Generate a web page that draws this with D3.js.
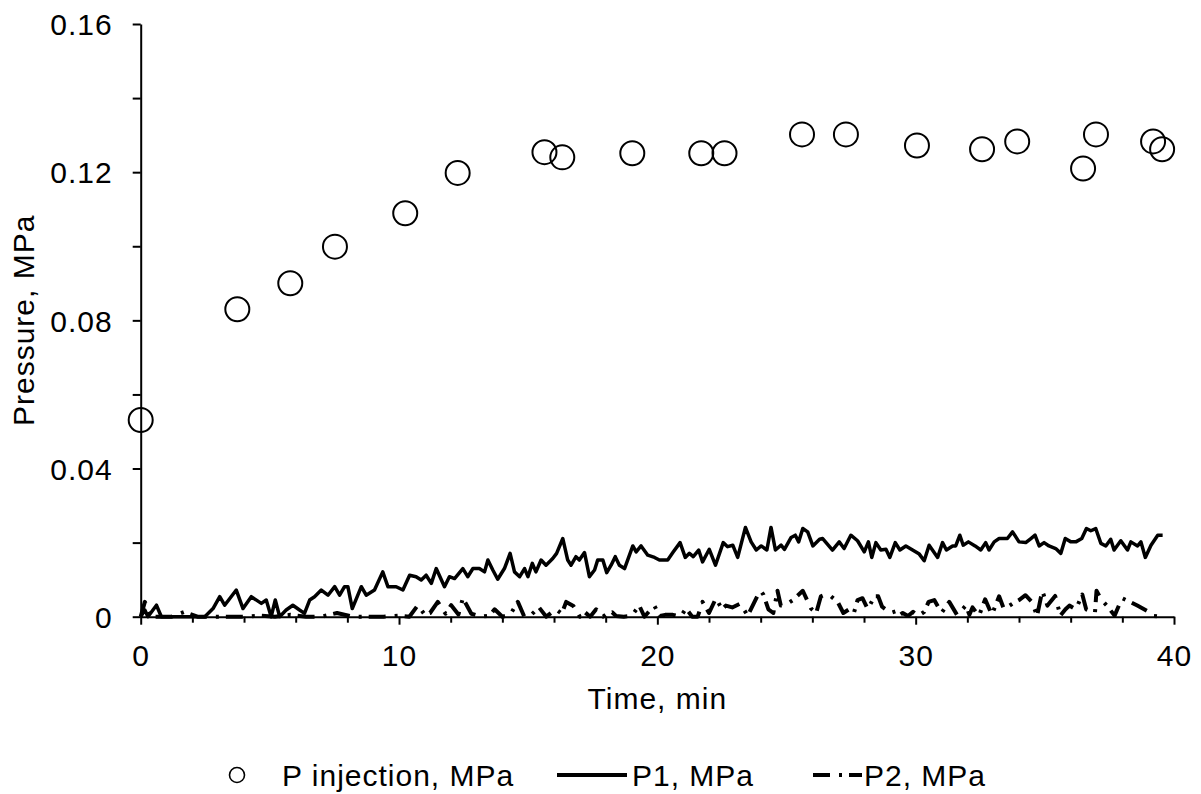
<!DOCTYPE html>
<html>
<head>
<meta charset="utf-8">
<script src="https://cdn.jsdelivr.net/npm/d3@7"></script>
<style>
  body { margin: 0; background: #fff; }
  svg text { font-family: "Liberation Sans", Arial, sans-serif; fill: #000; }
</style>
</head>
<body>
<svg id="chart" width="1201" height="794"></svg>
<script>
// Injection pressure, sampled by hand (min, MPa)
const injTime = [0, 3.74, 5.79, 7.52, 10.24, 12.27, 15.63, 16.32, 19.03, 21.7, 22.6, 25.6, 27.3, 30.05, 32.57, 33.93, 36.48, 36.98, 39.19, 39.54];
const injPressure = [0.0531, 0.0830, 0.0900, 0.0999, 0.1089, 0.1198, 0.1254, 0.1240, 0.1251, 0.1251, 0.1251, 0.1302, 0.1302, 0.1272, 0.1262, 0.1283, 0.1210, 0.1302, 0.1283, 0.1262];

// Pressure at gauge P1 (min, MPa)
const p1Time = [0, 0.16, 0.28, 0.61, 0.80, 1.2, 1.6, 2.0, 2.48, 2.80, 3.06, 3.25, 3.70, 3.96, 4.28, 4.67, 4.86, 5.05, 5.21, 5.38, 5.63, 5.89, 6.15, 6.34, 6.54, 6.73, 6.99, 7.25, 7.51, 7.70, 7.89, 8.02, 8.19, 8.54, 8.73, 9.05, 9.37, 9.57, 9.89, 10.15, 10.41, 10.66, 10.86, 11.05, 11.25, 11.44, 11.76, 11.95, 12.15, 12.47, 12.66, 12.86, 13.11,
  13.31, 13.44, 13.63, 13.82, 14.08, 14.30, 14.47, 14.67, 14.86, 14.99, 15.16, 15.30, 15.50, 15.69, 15.95, 16.10, 16.34, 16.53, 16.66, 16.85, 16.98, 17.18, 17.37, 17.57, 17.69, 17.89, 18.04, 18.21, 18.37, 18.53, 18.73, 19.05, 19.18, 19.37, 19.63, 19.89, 20.08, 20.40, 20.62, 20.88, 21.08, 21.24, 21.39, 21.60, 21.75, 22.01, 22.25, 22.55, 22.72, 22.92, 23.11, 23.41, 23.63, 23.83, 24.02, 24.24, 24.40, 24.57, 24.79, 24.92, 25.18, 25.34, 25.47, 25.63, 25.82, 26.02, 26.28,
  26.40, 26.78, 27.04, 27.23, 27.49, 27.75, 28.01, 28.17, 28.30, 28.46, 28.65, 28.85, 29.00, 29.21, 29.39, 29.62, 29.88, 30.14, 30.33, 30.52, 30.85, 31.04, 31.19, 31.43, 31.55, 31.71, 31.84, 32.04, 32.30, 32.52, 32.71, 32.84, 33.04, 33.23, 33.55, 33.75, 34.00, 34.26, 34.46, 34.62, 34.78, 34.97, 35.16, 35.42, 35.62, 35.79, 36.01, 36.20, 36.43, 36.61, 36.78, 36.97, 37.17, 37.36, 37.55, 37.68, 37.94, 38.20, 38.33, 38.59, 38.72, 38.89, 39.11, 39.37, 39.56];
const p1Pressure = [0, 0.0018, 0, 0.0031, 0, 0, 0, 0, 0, 0.0022, 0.0054, 0.0031, 0.0072, 0.0022, 0.0054, 0.0036, 0.0045, 0, 0.0045, 0, 0.0018, 0.0031, 0.0018, 0.0009, 0.0045, 0.0054, 0.0072, 0.0058, 0.0081, 0.0058, 0.0081, 0.0081, 0.0022, 0.0081, 0.0058, 0.0072, 0.0121, 0.0081, 0.0081, 0.0072, 0.0112, 0.0108, 0.0099, 0.0112, 0.0090, 0.0130, 0.0081, 0.0108, 0.0103, 0.0130, 0.0108, 0.0130, 0.0130,
  0.0121, 0.0153, 0.0126, 0.0101, 0.0130, 0.0171, 0.0121, 0.0108, 0.0130, 0.0108, 0.0144, 0.0121, 0.0153, 0.0139, 0.0157, 0.0171, 0.0211, 0.0153, 0.0139, 0.0162, 0.0153, 0.0173, 0.0108, 0.0126, 0.0153, 0.0153, 0.0119, 0.0139, 0.0162, 0.0139, 0.0130, 0.0191, 0.0175, 0.0191, 0.0166, 0.0160, 0.0153, 0.0153, 0.0175, 0.0200, 0.0160, 0.0171, 0.0162, 0.0180, 0.0148, 0.0182, 0.0139, 0.0200, 0.0189, 0.0193, 0.0160, 0.0241, 0.0202, 0.0180, 0.0191, 0.0180, 0.0241, 0.0180, 0.0193, 0.0182, 0.0214, 0.0220, 0.0202, 0.0238, 0.0229, 0.0191, 0.0209,
  0.0211, 0.0180, 0.0202, 0.0184, 0.0220, 0.0205, 0.0175, 0.0202, 0.0160, 0.0200, 0.0180, 0.0182, 0.0160, 0.0200, 0.0180, 0.0191, 0.0180, 0.0169, 0.0151, 0.0193, 0.0160, 0.0200, 0.0180, 0.0191, 0.0191, 0.0220, 0.0193, 0.0202, 0.0191, 0.0180, 0.0200, 0.0180, 0.0202, 0.0211, 0.0211, 0.0229, 0.0202, 0.0200, 0.0211, 0.0220, 0.0191, 0.0200, 0.0191, 0.0184, 0.0171, 0.0211, 0.0202, 0.0202, 0.0211, 0.0238, 0.0232, 0.0238, 0.0198, 0.0191, 0.0209, 0.0180, 0.0205, 0.0180, 0.0202, 0.0191, 0.0202, 0.0160, 0.0193, 0.0220, 0.0220];

// Pressure at gauge P2 (min, MPa)
const p2Time = [0, 0.16, 0.4, 0.8, 1.2, 1.7, 2.2, 2.8, 3.4, 4.0, 4.6, 5.2, 5.8, 6.4, 7.0, 7.6, 8.2, 8.8, 9.4, 10.0, 10.4, 10.73, 11.0, 11.2, 11.5, 11.8, 12.02, 12.3, 12.47, 12.8, 13.2, 13.5, 13.7, 14.0, 14.3, 14.6, 14.85, 15.1, 15.42, 15.7, 16.07, 16.3, 16.47, 16.75, 17.0, 17.18, 17.4, 17.63, 17.9, 18.1, 18.25, 18.4, 18.7, 19.0, 19.3, 19.5, 19.88, 20.1, 20.3, 20.6, 20.9, 21.11, 21.35, 21.56, 21.75, 22.0, 22.27, 22.5, 22.65, 22.9, 23.2, 23.5, 23.9, 24.0, 24.1, 24.3, 24.49, 24.65, 24.78, 24.92, 25.25, 25.63, 25.95, 26.15, 26.33, 26.5, 26.72, 26.98, 27.2, 27.42, 27.6, 27.75, 27.94, 28.15, 28.4, 28.55, 28.7, 29.04, 29.25, 29.4, 29.5, 29.7, 29.9, 30.1, 30.33, 30.5, 30.72, 31.0, 31.3, 31.6, 31.94, 32.08, 32.2, 32.45, 32.69, 32.95, 33.23, 33.42, 33.81, 34.0, 34.25, 34.5, 34.7, 34.9, 35.1, 35.4, 35.6, 35.8, 35.95, 36.2, 36.45, 36.6, 36.94, 37.0, 37.2, 37.4, 37.7, 37.99, 38.3, 38.58, 38.97, 39.2, 39.5];
const p2Pressure = [0, 0.004, 0, 0, 0, 0.0013, 0, 0, 0, 0, 0.0003, 0, 0.0005, 0, 0, 0.001, 0, 0, 0, 0.0003, 0, 0.0031, 0.0005, 0.001, 0.004, 0.0008, 0.0031, 0.0006, 0.005, 0.0008, 0, 0.0003, 0.002, 0, 0.0005, 0.004, 0, 0.0004, 0.0025, 0, 0.002, 0.0008, 0.004, 0.0029, 0, 0.0013, 0, 0.002, 0, 0.001, 0.0012, 0.0002, 0, 0.0002, 0.003, 0, 0.003, 0.0002, 0.0005, 0.0005, 0, 0.0022, 0, 0, 0.004, 0.001, 0.005, 0.002, 0.003, 0.0025, 0.0035, 0.0003, 0.006, 0.007, 0.006, 0.002, 0.001, 0.007, 0.003, 0.003, 0.0045, 0.007, 0.0022, 0.001, 0.0055, 0.006, 0.0055, 0.004, 0.001, 0.002, 0.0008, 0.0045, 0.005, 0.002, 0.0055, 0.0055, 0.0027, 0.001, 0.0015, 0.0005, 0.001, 0.0002, 0.0013, 0.0002, 0.0013, 0.004, 0.0045, 0.001, 0.004, 0.0005, 0.003, 0.0005, 0.0025, 0.0002, 0.0047, 0.0005, 0.0055, 0.002, 0.0038, 0.0045, 0.0058, 0.004, 0.0002, 0.007, 0.003, 0.0056, 0.0003, 0.002, 0.003, 0.002, 0.006, 0.002, 0.001, 0.007, 0.0045, 0.003, 0.0003, 0.005, 0.004, 0.003, 0.0015, 0.0002, 0];

// Axis ticks and labels
const xMajorTicks = [0, 10, 20, 30, 40];
const xMinorTicks = [2, 4, 6, 8, 12, 14, 16, 18, 22, 24, 26, 28, 32, 34, 36, 38];
const yMajorTicks = [0, 0.04, 0.08, 0.12, 0.16];
const yTickLabels = ["0", "0.04", "0.08", "0.12", "0.16"];
const yMinorTicks = [0.02, 0.06, 0.10, 0.14];
const xTitle = "Time, min";
const yTitle = "Pressure, MPa";
const legendLabels = ["P injection, MPa", "P1, MPa", "P2, MPa"];

const FONT = 30;
const LS = "1px";
const P2_DASH = "17,9,3,7";

const svg = d3.select("#chart");
const x = d3.scaleLinear().domain([0, 40]).range([140.7, 1174]);
const y = d3.scaleLinear().domain([0, 0.16]).range([616.7, 24]);

const zip = (ts, vs) => ts.map((t, i) => ({ t, v: vs[i] }));
const injData = zip(injTime, injPressure);
const p1Data = zip(p1Time, p1Pressure);
const p2Data = zip(p2Time, p2Pressure);

// ---- axes ----
const gx = svg.append("g").attr("transform", `translate(0,${y(0)})`);
gx.call(d3.axisBottom(x).tickValues(xMajorTicks).tickSize(8).tickSizeOuter(0).tickFormat(d3.format("d")));
gx.append("g").call(d3.axisBottom(x).tickValues(xMinorTicks).tickSize(6).tickFormat(""))
  .select(".domain").remove();
gx.selectAll("path.domain").attr("stroke", "#000").attr("stroke-width", 2);
gx.selectAll(".tick line").attr("stroke", "#000").attr("stroke-width", 2);
gx.selectAll(".tick text")
  .attr("y", 49).attr("dy", null)
  .style("font-size", FONT + "px").style("letter-spacing", LS)
  .attr("fill", "#000");

const gy = svg.append("g").attr("transform", `translate(${x(0)},0)`);
gy.call(d3.axisLeft(y).tickValues(yMajorTicks).tickSize(8).tickSizeOuter(0)
  .tickFormat((d, i) => yTickLabels[i]));
gy.append("g").call(d3.axisLeft(y).tickValues(yMinorTicks).tickSize(8).tickFormat(""))
  .select(".domain").remove();
gy.selectAll("path.domain").attr("stroke", "#000").attr("stroke-width", 2);
gy.selectAll(".tick line").attr("stroke", "#000").attr("stroke-width", 2);
gy.selectAll(".tick text")
  .attr("x", -28).attr("dy", "0.36em")
  .style("font-size", FONT + "px").style("letter-spacing", LS)
  .attr("fill", "#000");

// axis titles
svg.append("text")
  .attr("x", (x(0) + x(40)) / 2).attr("y", 709)
  .attr("text-anchor", "middle")
  .style("font-size", FONT + "px").style("letter-spacing", LS)
  .text(xTitle);
svg.append("text")
  .attr("transform", `translate(34,${(y(0) + y(0.16)) / 2}) rotate(-90)`)
  .attr("text-anchor", "middle")
  .style("font-size", FONT + "px").style("letter-spacing", LS)
  .text(yTitle);

// ---- series ----
const line = d3.line().x(d => x(d.t)).y(d => y(d.v));

svg.append("path").datum(p2Data)
  .attr("d", line)
  .attr("fill", "none").attr("stroke", "#000")
  .attr("stroke-width", 4).attr("stroke-dasharray", P2_DASH)
  .attr("stroke-linejoin", "round");

svg.append("path").datum(p1Data)
  .attr("d", line)
  .attr("fill", "none").attr("stroke", "#000")
  .attr("stroke-width", 3.5).attr("stroke-linejoin", "round");

svg.append("g").selectAll("circle").data(injData).join("circle")
  .attr("cx", d => x(d.t)).attr("cy", d => y(d.v)).attr("r", 12)
  .attr("fill", "none").attr("stroke", "#000").attr("stroke-width", 2);

// ---- legend ----
const LY = 775;
const lg = svg.append("g");
lg.append("circle").attr("cx", 237).attr("cy", LY).attr("r", 7.5)
  .attr("fill", "none").attr("stroke", "#000").attr("stroke-width", 1.6);
lg.append("text").attr("x", 282).attr("y", LY + 11)
  .style("font-size", FONT + "px").style("letter-spacing", LS).text(legendLabels[0]);

lg.append("line").attr("x1", 557).attr("x2", 627).attr("y1", LY).attr("y2", LY)
  .attr("stroke", "#000").attr("stroke-width", 4);
lg.append("text").attr("x", 632).attr("y", LY + 11)
  .style("font-size", FONT + "px").style("letter-spacing", LS).text(legendLabels[1]);

lg.append("line").attr("x1", 813).attr("x2", 862).attr("y1", LY).attr("y2", LY)
  .attr("stroke", "#000").attr("stroke-width", 4).attr("stroke-dasharray", P2_DASH);
lg.append("text").attr("x", 864).attr("y", LY + 11)
  .style("font-size", FONT + "px").style("letter-spacing", LS).text(legendLabels[2]);
</script>
</body>
</html>
